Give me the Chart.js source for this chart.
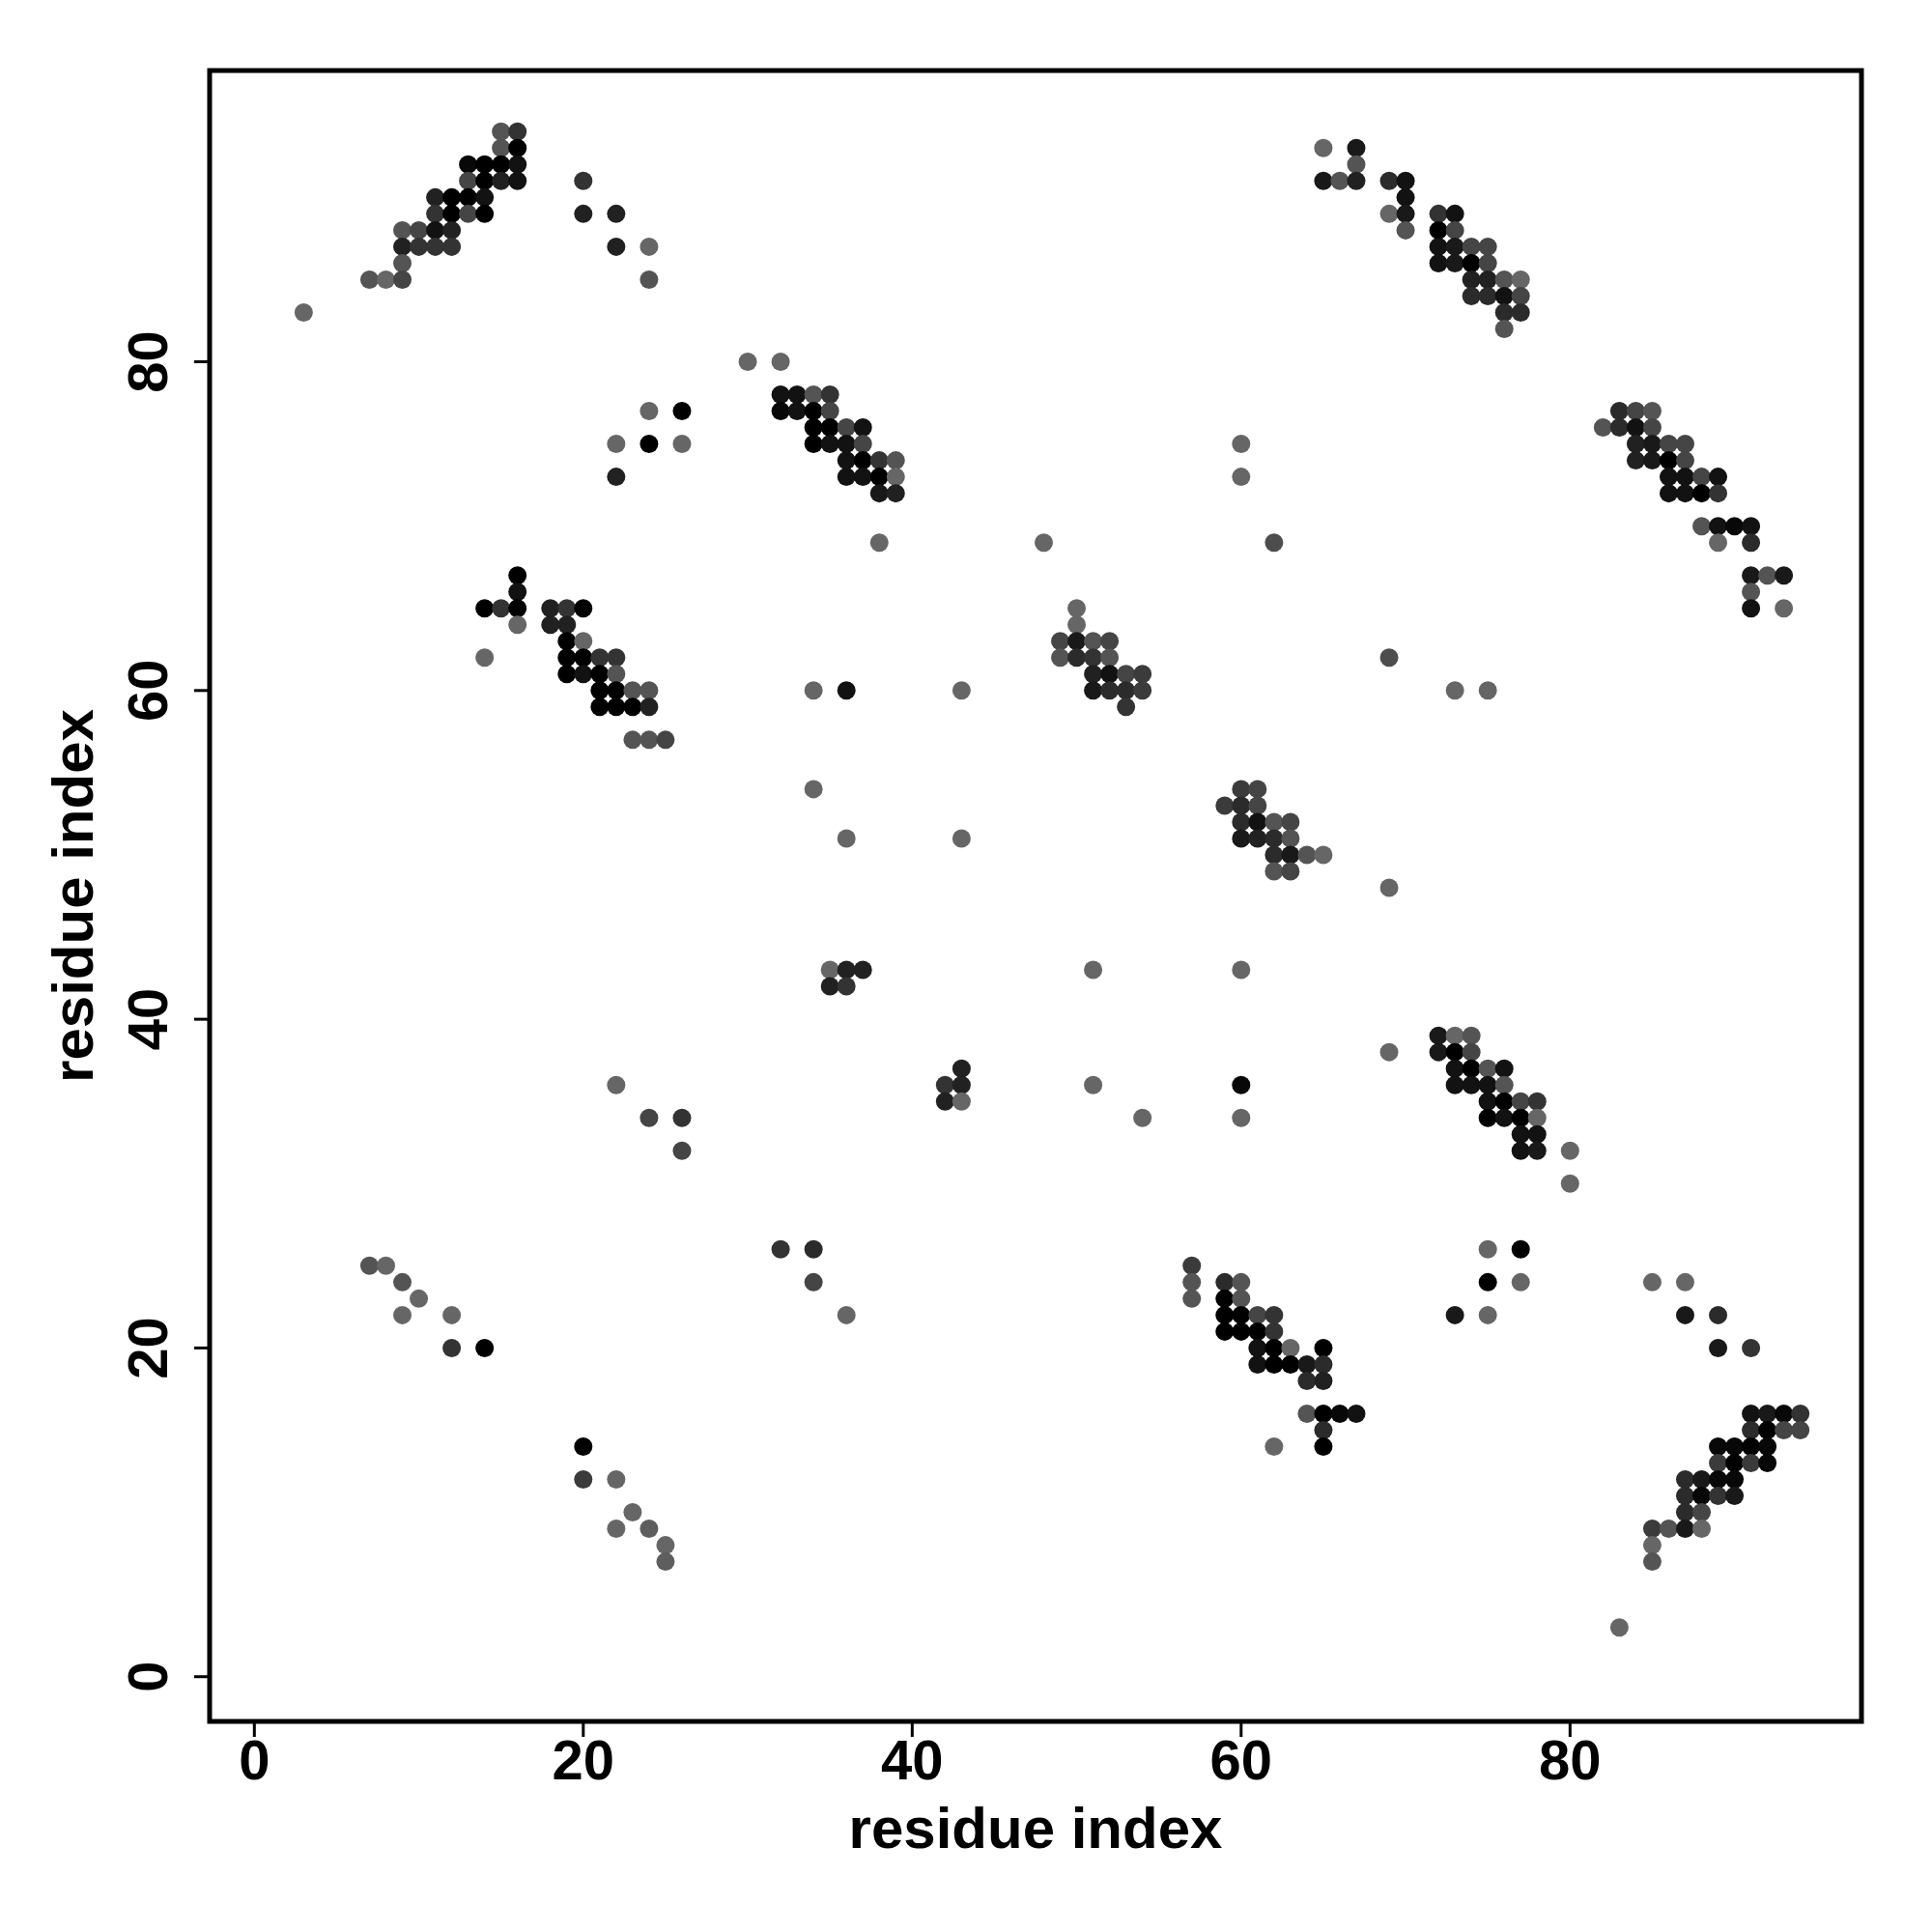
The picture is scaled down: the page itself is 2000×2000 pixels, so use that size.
<!DOCTYPE html>
<html>
<head>
<meta charset="utf-8">
<title>Contact map</title>
<script src="https://cdn.jsdelivr.net/npm/chart.js@4.4.1/dist/chart.umd.min.js"></script>
<style>
  body { margin: 0; background: #fff; }
  #map { display: block; }
</style>
</head>
<body>
<canvas id="map" width="2000" height="2000"></canvas>
<script>
// contacts as [residue i, residue j, probability]; grouped by region of the map
let topLeftStrand = [
  [15,94,.67],[16,94,.80],[15,93,.67],[16,93,1],
  [13,92,.97],[14,92,1],[15,92,1],[16,92,.93],
  [13,91,.73],[14,91,1],[15,91,.87],[16,91,.93],
  [11,90,.87],[12,90,1],[13,90,1],[14,90,.93],
  [11,89,.80],[12,89,1],[13,89,.73],[14,89,1],
  [9,88,.67],[10,88,.73],[11,88,.93],[12,88,.87],
  [9,87,.87],[10,87,.80],[11,87,.80],[12,87,.80],
  [9,86,.67],[7,85,.67],[8,85,.60],[9,85,.73],[3,83,.60],
  [20,91,.80],[20,89,.87],[22,89,.87],[22,87,.87],[24,87,.60],[24,85,.67],
  [24,77,.60],[26,77,1],[22,75,.60],[24,75,1],[26,75,.60],[22,73,.87]
];
let strand32 = [
  [30,80,.60],[32,80,.60],
  [32,78,.93],[33,78,.93],[34,78,.67],[35,78,.80],
  [32,77,.97],[33,77,.93],[34,77,1],[35,77,.73],
  [34,76,1],[35,76,1],[36,76,.73],[37,76,.93],
  [34,75,1],[35,75,.93],[36,75,.93],[37,75,.73],
  [36,74,.93],[37,74,1],[38,74,.80],[39,74,.67],
  [36,73,.93],[37,73,.93],[38,73,1],[39,73,.60],
  [38,72,.90],[39,72,.87],[38,69,.60]
];
let strand16 = [
  [16,67,1],[16,66,.93],
  [14,65,1],[15,65,.80],[16,65,1],[18,65,.87],[19,65,.80],[20,65,1],
  [16,64,.60],[18,64,.87],[19,64,.87],
  [19,63,1],[20,63,.60],
  [14,62,.60],[19,62,1],[20,62,1],[21,62,.80],[22,62,.80],
  [19,61,1],[20,61,.93],[21,61,1],[22,61,.67],
  [21,60,1],[22,60,1],[23,60,.67],[24,60,.67],
  [21,59,1],[22,59,1],[23,59,1],[24,59,.87],
  [23,57,.67],[24,57,.67],[25,57,.73]
];
let strand50 = [
  [48,69,.60],[50,65,.60],[50,64,.60],
  [49,63,.73],[50,63,.90],[51,63,.67],[52,63,.73],
  [49,62,.67],[50,62,.83],[51,62,.80],[52,62,.67],
  [51,61,.87],[52,61,.93],[53,61,.73],[54,61,.77],
  [51,60,.90],[52,60,.83],[53,60,.83],[54,60,.77],
  [53,59,.80],
  [34,60,.60],[36,60,.93],[43,60,.60]
];
let topRightStrand = [
  [65,93,.60],[67,93,.90],[67,92,.67],
  [65,91,.90],[66,91,.67],[67,91,.87],[69,91,.83],[70,91,.93],
  [70,90,.93],
  [69,89,.60],[70,89,.90],[72,89,.80],[73,89,.93],
  [70,88,.67],[72,88,1],[73,88,.73],
  [72,87,.93],[73,87,.90],[74,87,.73],[75,87,.73],
  [72,86,.93],[73,86,.90],[74,86,1],[75,86,.73],
  [74,85,.87],[75,85,.87],[76,85,.67],[77,85,.60],
  [74,84,.83],[75,84,.83],[76,84,.93],[77,84,.73],
  [76,83,.83],[77,83,.83],[76,82,.67]
];
let strand84 = [
  [83,77,.83],[84,77,.73],[85,77,.67],
  [82,76,.67],[83,76,.83],[84,76,.93],[85,76,.73],
  [84,75,.87],[85,75,.90],[86,75,.73],[87,75,.73],
  [84,74,.87],[85,74,.90],[86,74,1],[87,74,.73],
  [86,73,.93],[87,73,.93],[88,73,.73],[89,73,.93],
  [86,72,.93],[87,72,.93],[88,72,1],[89,72,.80],
  [88,70,.67],[89,70,.93],[90,70,.97],[91,70,.93],
  [89,69,.60],[91,69,.83],
  [91,67,.90],[92,67,.67],[93,67,.90],
  [91,66,.67],[91,65,.93],[93,65,.60]
];
let strand60 = [
  [60,75,.60],[60,73,.60],[62,69,.70],[69,62,.70],[73,60,.60],[75,60,.60],
  [60,54,.77],[61,54,.73],
  [59,53,.77],[60,53,.83],[61,53,.73],
  [60,52,.83],[61,52,.93],[62,52,.67],[63,52,.73],
  [60,51,.90],[61,51,.87],[62,51,.83],[63,51,.67],
  [62,50,.83],[63,50,.90],[64,50,.67],[65,50,.60],
  [62,49,.67],[63,49,.73],[69,48,.60]
];
let middleContacts = [
  [34,54,.60],[36,51,.60],[43,51,.60],
  [35,43,.60],[36,43,.87],[37,43,.87],[51,43,.60],[60,43,.60],
  [35,42,.87],[36,42,.80],
  [43,37,.87],[42,36,.80],[43,36,.87],[22,36,.60],[51,36,.60],[60,36,.97],
  [42,35,.87],[43,35,.60],
  [24,34,.73],[26,34,.80],[54,34,.60],[60,34,.60],[26,32,.73]
];
let strand74 = [
  [72,39,.90],[73,39,.60],[74,39,.67],
  [69,38,.60],[72,38,.90],[73,38,1],[74,38,.73],
  [73,37,.93],[74,37,1],[75,37,.67],[76,37,.93],
  [73,36,.93],[74,36,.93],[75,36,.93],[76,36,.67],
  [75,35,.93],[76,35,1],[77,35,.73],[78,35,.80],
  [75,34,1],[76,34,.93],[77,34,1],[78,34,.60],
  [77,33,.93],[78,33,.93],
  [77,32,.93],[78,32,.90],[80,32,.60],[80,30,.60]
];
let bottomLeftContacts = [
  [7,25,.67],[8,25,.60],[9,24,.67],[10,23,.60],[9,22,.60],[12,22,.60],[12,20,.80],[14,20,1],
  [32,26,.80],[34,26,.83],[34,24,.73],[36,22,.60],
  [20,14,1],[20,12,.77],[22,12,.60],[23,10,.60],[22,9,.60],[24,9,.63],[25,8,.60],[25,7,.63]
];
let strand20 = [
  [57,25,.77],
  [57,24,.67],[59,24,.83],[60,24,.67],
  [57,23,.67],[59,23,1],[60,23,.67],
  [59,22,1],[60,22,1],[61,22,.73],[62,22,.80],
  [59,21,1],[60,21,1],[61,21,1],[62,21,.80],
  [61,20,.93],[62,20,1],[63,20,.60],[65,20,1],
  [61,19,.93],[62,19,1],[63,19,1],[64,19,.90],[65,19,.83],
  [64,18,.83],[65,18,.87],
  [64,16,.67],[65,16,1],[66,16,.97],[67,16,.93],
  [65,15,.83],[62,14,.60],[65,14,1]
];
let bottomRightStrand = [
  [75,26,.60],[77,26,1],
  [75,24,1],[77,24,.60],[85,24,.60],[87,24,.60],
  [73,22,.90],[75,22,.60],[87,22,.90],[89,22,.83],
  [89,20,.90],[91,20,.80],
  [91,16,.93],[92,16,.90],[93,16,.97],[94,16,.80],
  [91,15,.83],[92,15,1],[93,15,.73],[94,15,.73],
  [89,14,.97],[90,14,.97],[91,14,1],[92,14,.97],
  [89,13,.77],[90,13,1],[91,13,.77],[92,13,.97],
  [87,12,.83],[88,12,.90],[89,12,.97],[90,12,.97],
  [87,11,.83],[88,11,.97],[89,11,.80],[90,11,.90],
  [87,10,.83],[88,10,.73],
  [85,9,.77],[86,9,.67],[87,9,.90],[88,9,.60],
  [85,8,.60],[85,7,.67],[83,3,.60]
];

let tickValues = [0, 20, 40, 60, 80];
let axisTitle = 'residue index';

let contacts = [].concat(topLeftStrand, strand32, strand16, strand50, topRightStrand,
  strand84, strand60, middleContacts, strand74, bottomLeftContacts, strand20, bottomRightStrand);

// grey(1 - p) like in R
function greyFor(p) {
  let g = Math.round(255 * (1 - p));
  return 'rgb(' + g + ',' + g + ',' + g + ')';
}

let fontFamily = '"Liberation Sans", Arial, Helvetica, sans-serif';

// R style box, ticks and labels
let framePlugin = {
  id: 'frame',
  afterDatasetsDraw(chart) {
    let c = chart.ctx;
    let area = chart.chartArea;
    let xs = chart.scales.x;
    let ys = chart.scales.y;
    c.save();
    c.strokeStyle = '#000';
    c.lineWidth = 5;
    c.strokeRect(area.left, area.top, area.right - area.left, area.bottom - area.top);

    c.lineWidth = 3;
    c.fillStyle = '#000';
    c.font = 'bold 58px ' + fontFamily;
    tickValues.forEach(v => {
      let px = xs.getPixelForValue(v);
      c.beginPath();
      c.moveTo(px, area.bottom);
      c.lineTo(px, area.bottom + 16);
      c.stroke();
      c.textAlign = 'center';
      c.textBaseline = 'alphabetic';
      c.fillText(String(v), px, 1842);

      let py = ys.getPixelForValue(v);
      c.beginPath();
      c.moveTo(area.left, py);
      c.lineTo(area.left - 16, py);
      c.stroke();
      c.save();
      c.translate(173, py);
      c.rotate(-Math.PI / 2);
      c.fillText(String(v), 0, 0);
      c.restore();
    });

    c.font = 'bold 60px ' + fontFamily;
    c.textAlign = 'center';
    c.fillText(axisTitle, (area.left + area.right) / 2, 1913);
    c.save();
    c.translate(96, (area.top + area.bottom) / 2);
    c.rotate(-Math.PI / 2);
    c.fillText(axisTitle, 0, 0);
    c.restore();
    c.restore();
  }
};

let ctx = document.getElementById('map').getContext('2d');
let chartInstance = new Chart(ctx, {
  type: 'scatter',
  data: {
    datasets: [{
      data: contacts.map(d => ({ x: d[0], y: d[1] })),
      pointRadius: 9.5,
      pointHoverRadius: 9.5,
      pointBorderWidth: 0,
      pointBackgroundColor: contacts.map(d => greyFor(d[2])),
      pointBorderColor: 'rgba(0,0,0,0)'
    }]
  },
  options: {
    responsive: false,
    animation: false,
    events: [],
    layout: { padding: { left: 217, right: 73, top: 73, bottom: 218 } },
    plugins: { legend: { display: false }, tooltip: { enabled: false } },
    scales: {
      x: { type: 'linear', min: -2.72, max: 97.72, display: false },
      y: { type: 'linear', min: -2.72, max: 97.72, display: false }
    }
  },
  plugins: [framePlugin]
});
</script>
</body>
</html>
